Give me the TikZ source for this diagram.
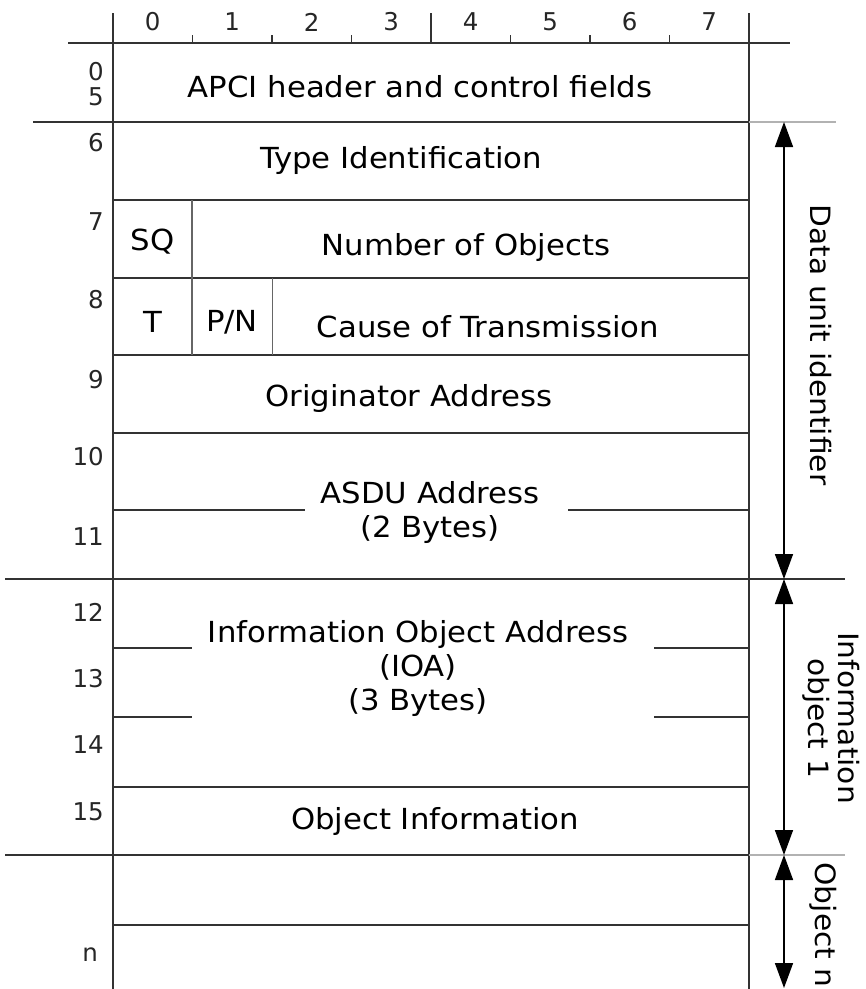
\documentclass[tikz,border=0pt]{standalone}
\usepackage{fontspec}
\setmainfont{DejaVu Sans}
\newfontfamily\fieldfont[FakeStretch=1.06]{DejaVu Sans}
\usetikzlibrary{arrows.meta}
\begin{document}
\begin{tikzpicture}[x=1pt,y=-1pt,
  rule/.style={draw=black!80, line width=1.6pt},
  faint/.style={draw=black!30, line width=1.6pt},
  divider/.style={draw=black!60, line width=1.6pt},
  field/.style={inner sep=0pt, font=\fieldfont\fontsize{29}{34}\selectfont, align=center},
  rowlbl/.style={inner sep=0pt, anchor=east, font=\fontsize{24.5}{28}\selectfont, text=black!85},
  bitlbl/.style={inner sep=0pt, font=\fontsize{24.5}{28}\selectfont, text=black!85},
  span/.style={draw=black, line width=1.6pt,
    {Triangle[length=25pt,width=18pt]}-{Triangle[length=25pt,width=18pt]}},
  side/.style={inner sep=0pt, rotate=-90, font=\fieldfont\fontsize{28}{30}\selectfont, align=center}]
  \useasboundingbox (0,0) rectangle (866,989);

  % ---- bit ruler ----
  \draw[rule] (113,13) -- (113,989);
  \draw[rule] (749,13) -- (749,989);
  \draw[rule] (431,13) -- (431,43);
  \foreach \tx in {192.5,272,351.5,510.5,590,669.5}
    \draw[rule] (\tx,35) -- (\tx,43);
  \draw[rule] (68,43) -- (790,43);
  \foreach \b [count=\i from 0] in {0,...,7}
    \node[bitlbl] (bit\b) at (152.75+79.5*\i,22) {\b};

  % ---- horizontal rules ----
  \draw[rule] (33,122) -- (749,122);
  \draw[faint] (749,122) -- (836,122);
  \foreach \ry in {200,278,355,433,787,925}
    \draw[rule] (113,\ry) -- (749,\ry);
  \draw[rule] (113,510) -- (305,510);
  \draw[rule] (568,510) -- (749,510);
  \draw[rule] (5,579) -- (845,579);
  \foreach \ry in {648,717}{
    \draw[rule] (113,\ry) -- (192,\ry);
    \draw[rule] (654,\ry) -- (749,\ry);
  }
  \draw[rule] (5,855) -- (749,855);
  \draw[faint] (749,855) -- (845,855);

  % ---- bit field dividers ----
  \draw[divider] (192,200) -- (192,355);
  \draw[divider] (272.5,278) -- (272.5,355);

  % ---- row numbers ----
  \node[rowlbl] (r0)  at (104,72)  {0};
  \node[rowlbl] (r5)  at (104,97)  {5};
  \node[rowlbl] (r6)  at (104,143) {6};
  \node[rowlbl] (r7)  at (104,222) {7};
  \node[rowlbl] (r8)  at (104,300) {8};
  \node[rowlbl] (r9)  at (104,380) {9};
  \node[rowlbl] (r10) at (104,457) {10};
  \node[rowlbl] (r11) at (104,537) {11};
  \node[rowlbl] (r12) at (104,612) {12};
  \node[rowlbl] (r13) at (104,679) {13};
  \node[rowlbl] (r14) at (104,745) {14};
  \node[rowlbl] (r15) at (104,812) {15};
  \node[rowlbl] (rn)  at (98,955)  {n};

  % ---- field names ----
  \node[field] (apci)  at (420,87)  {APCI header and control fields};
  \node[field] (type)  at (401,160) {Type Identification};
  \node[field] (sq)    at (152.5,242) {SQ};
  \node[field] (num)   at (466,247) {Number of Objects};
  \node[field] (t)     at (152.5,322) {T};
  \node[field] (pn)    at (232,322) {P/N};
  \node[field] (cot)   at (488,327) {Cause of Transmission};
  \node[field] (orig)  at (409,398) {Originator Address};
  \node[field] (asdu)  at (430,512) {ASDU Address\\(2 Bytes)};
  \node[field] (ioa)   at (418,668) {Information Object Address\\(IOA)\\(3 Bytes)};
  \node[field] (oinfo) at (435,821) {Object Information};

  % ---- spans on the right ----
  \coordinate (duTop) at (784,122);
  \coordinate (duBot) at (784,579);
  \coordinate (ioTop) at (784,579);
  \coordinate (ioBot) at (784,855);
  \coordinate (onTop) at (784,855);
  \coordinate (onBot) at (784,988);
  \draw[span] (duTop) -- (duBot);
  \draw[span] (ioTop) -- (ioBot);
  \draw[span] (onTop) -- (onBot);
  \node[side] (du) at (821,345) {Data unit identifier};
  \node[side] (io) at (831,718) {Information\\object 1};
  \node[side] (on) at (823,925) {Object n};
\end{tikzpicture}
\end{document}
